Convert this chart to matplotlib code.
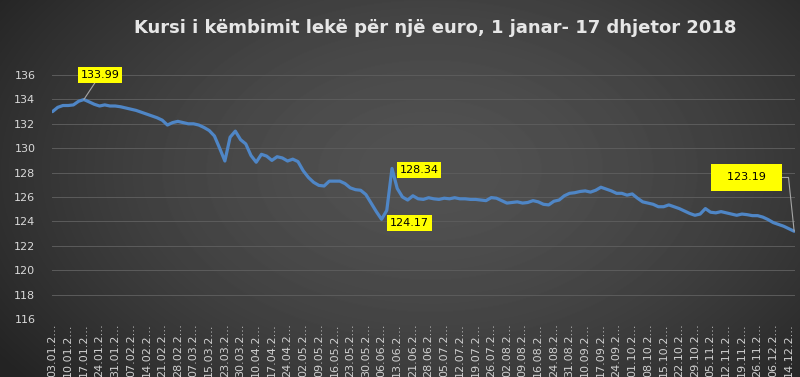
import numpy as np
import matplotlib
matplotlib.use("Agg")
import matplotlib.pyplot as plt

title = "Kursi i këmbimit lekë për një euro, 1 janar- 17 dhjetor 2018"

# one label per week; three readings per label step
dates = ["03.01.2018", "10.01.2018", "17.01.2018", "24.01.2018", "31.01.2018",
         "07.02.2018", "14.02.2018", "21.02.2018", "28.02.2018",
         "07.03.2018", "15.03.2018", "23.03.2018", "30.03.2018",
         "10.04.2018", "17.04.2018", "24.04.2018",
         "02.05.2018", "09.05.2018", "16.05.2018", "23.05.2018", "30.05.2018",
         "06.06.2018", "13.06.2018", "21.06.2018", "28.06.2018",
         "05.07.2018", "12.07.2018", "19.07.2018", "26.07.2018",
         "02.08.2018", "09.08.2018", "16.08.2018", "24.08.2018", "31.08.2018",
         "10.09.2018", "17.09.2018", "24.09.2018",
         "01.10.2018", "08.10.2018", "15.10.2018", "22.10.2018", "29.10.2018",
         "05.11.2018", "12.11.2018", "19.11.2018", "26.11.2018",
         "06.12.2018", "14.12.2018"]

rate = [133.00, 133.35, 133.50,  133.50, 133.55, 133.85,  133.99, 133.80, 133.60,
        133.46, 133.55, 133.46,  133.46, 133.40, 133.30,  133.20, 133.10, 132.95,
        132.80, 132.65, 132.50,  132.30, 131.90, 132.10,  132.20, 132.10, 132.00,
        132.00, 131.90, 131.70,  131.45, 131.00, 130.00,  128.95, 130.90, 131.40,
        130.70, 130.35, 129.40,  128.85, 129.50, 129.35,  129.00, 129.30, 129.20,
        128.95, 129.10, 128.90,  128.15, 127.60, 127.20,  126.95, 126.90, 127.30,
        127.30, 127.30, 127.10,  126.75, 126.60, 126.55,  126.20, 125.50, 124.80,
        124.17, 124.90, 128.34,  126.70, 126.00, 125.75,  126.10, 125.85, 125.80,
        125.94, 125.85, 125.80,  125.90, 125.85, 125.94,  125.85, 125.85, 125.80,
        125.80, 125.75, 125.70,  125.95, 125.90, 125.70,  125.50, 125.55, 125.60,
        125.50, 125.55, 125.70,  125.60, 125.40, 125.35,  125.65, 125.75, 126.10,
        126.30, 126.35, 126.45,  126.50, 126.40, 126.55,  126.80, 126.65, 126.50,
        126.30, 126.30, 126.15,  126.25, 125.90, 125.60,  125.50, 125.40, 125.20,
        125.20, 125.35, 125.20,  125.05, 124.85, 124.65,  124.50, 124.60, 125.05,
        124.75, 124.70, 124.80,  124.70, 124.60, 124.50,  124.60, 124.55, 124.47,
        124.47, 124.35, 124.15,  123.90, 123.75, 123.60,  123.40, 123.19]

yticks = list(range(116, 137, 2))

# labelled readings: index into rate, label position (x index, value), leader line
notes = [(6, (9.1, 136.0), "line"),
         (65, (70.2, 128.2), None),
         (63, (68.3, 123.85), None),
         (142, (132.9, 127.6), "corner")]

fig = plt.figure(figsize=(8, 3.77), dpi=100)

# dark radial background
bg = fig.add_axes([0, 0, 1, 1], zorder=-5)
yy, xx = np.mgrid[0:377, 0:800]
r = np.sqrt(((xx - 430) / 520.0) ** 2 + ((yy - 170) / 330.0) ** 2)
shade = 0.32 - 0.18 * np.clip(r, 0, 1) ** 1.6
bg.imshow(shade, cmap="gray", vmin=0, vmax=1, aspect="auto", interpolation="bilinear")
bg.axis("off")

ax = fig.add_axes([0.065, 0.154, 0.929, 0.647])
ax.patch.set_alpha(0)
x = np.arange(len(rate))
ax.plot(x, rate, color="#4f86c6", lw=2.3, solid_joinstyle="round",
        solid_capstyle="round", zorder=3)

ax.set_ylim(116, 136)
ax.set_xlim(-0.1, len(rate) - 0.8)
ax.set_yticks(yticks)
ax.set_yticklabels([str(t) for t in yticks], color="#d9d9d9", fontsize=8)
ax.set_xticks(x[::3])
ax.set_xticklabels([d[:7] + "…" for d in dates], rotation=90, color="#d0d0d0",
                   fontsize=8, va="top", ha="center")
ax.tick_params(axis="y", length=0, pad=12)
ax.tick_params(axis="x", length=0, pad=3)
ax.grid(axis="y", color="#5c5c5c", lw=0.7)
ax.set_axisbelow(True)
for s in ax.spines.values():
    s.set_visible(False)

for idx, pos, kind in notes:
    arrow = None
    pad = 0.25
    label = f"{rate[idx]:.2f}"
    if kind == "line":
        arrow = dict(arrowstyle="-", color="#a6a6a6", lw=0.8, shrinkA=0, shrinkB=0)
    elif kind == "corner":
        arrow = dict(arrowstyle="-", color="#a6a6a6", lw=0.8, shrinkA=0, shrinkB=0,
                     connectionstyle="angle,angleA=0,angleB=96,rad=0")
        label = "  " + label + "  "
        pad = 0.8
    ax.annotate(label, xy=(idx, rate[idx]), xytext=pos, ha="center", va="center",
                fontsize=8, color="black", arrowprops=arrow, annotation_clip=False,
                bbox=dict(boxstyle=f"square,pad={pad}", fc="#ffff00", ec="none"),
                zorder=5)

fig.text(0.544, 0.925, title, ha="center", va="center", fontsize=13,
         fontweight="bold", color="#e6e6e6")

fig.savefig("out.png", dpi=100)
